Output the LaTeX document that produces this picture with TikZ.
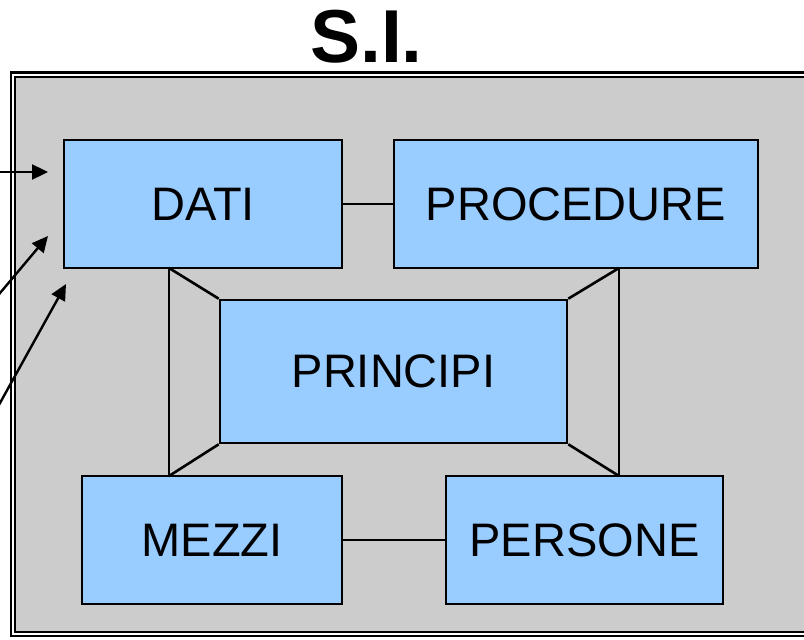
\documentclass[tikz,border=0pt]{standalone}
\usepackage{fontspec}
\setmainfont{Liberation Sans}
\usetikzlibrary{arrows.meta}
\definecolor{boxblue}{HTML}{99CCFF}
\definecolor{panelgray}{HTML}{CCCCCC}
\tikzset{
  block/.style={draw=black, line width=2.6pt, fill=boxblue, inner sep=0pt,
    font=\fontsize{47}{56}\selectfont},
  link/.style={draw=black, line width=2.6pt},
  pointer/.style={draw=black, line width=2.4pt, -{Triangle[length=16pt,width=15pt]}},
  frame/.style={draw=black, line width=2.4pt, double=white, double distance=2pt, fill=panelgray}
}
\begin{document}
\begin{tikzpicture}[x=1pt, y=-1pt]
  \useasboundingbox (0,0) rectangle (804,640);

  % title
  \node[anchor=base, font=\fontsize{75}{80}\selectfont\bfseries] (title) at (366.5,62.5) {S.I.};

  % outer panel with double border
  \path[frame] (13,74.5) rectangle (830,634);

  % the five blocks
  \node[block, minimum width=278pt, minimum height=128pt] (dati) at (203,204) {DATI};
  \node[block, minimum width=364pt, minimum height=128pt] (proc) at (576,204) {PROCEDURE};
  \node[block, minimum width=347pt, minimum height=143pt] (princ) at (393.5,371.5) {PRINCIPI};
  \node[block, minimum width=260pt, minimum height=128pt] (mezzi) at (212,540) {MEZZI};
  \node[block, minimum width=277pt, minimum height=128pt] (pers) at (584.5,540) {PERSONE};

  % corner points of the frame around PRINCIPI
  \coordinate (tl) at (169,268);
  \coordinate (bl) at (169,476);
  \coordinate (tr) at (619,268);
  \coordinate (br) at (619,476);

  \draw[link] (tl) -- (bl);
  \draw[link] (tr) -- (br);
  \draw[link] (tl) -- (princ.north west);
  \draw[link] (bl) -- (princ.south west);
  \draw[link] (tr) -- (princ.north east);
  \draw[link] (br) -- (princ.south east);

  % horizontal links
  \draw[link] (dati.east) -- (proc.west);
  \draw[link] (mezzi.east) -- (pers.west);

  % incoming arrows from the left
  \coordinate (s1) at (-5,172);
  \coordinate (e1) at (48,172);
  \coordinate (s2) at (-5,299);
  \coordinate (e2) at (48,236);
  \coordinate (s3) at (-5,412);
  \coordinate (e3) at (66,284);
  \draw[pointer] (s1) -- (e1);
  \draw[pointer] (s2) -- (e2);
  \draw[pointer] (s3) -- (e3);
\end{tikzpicture}
\end{document}
